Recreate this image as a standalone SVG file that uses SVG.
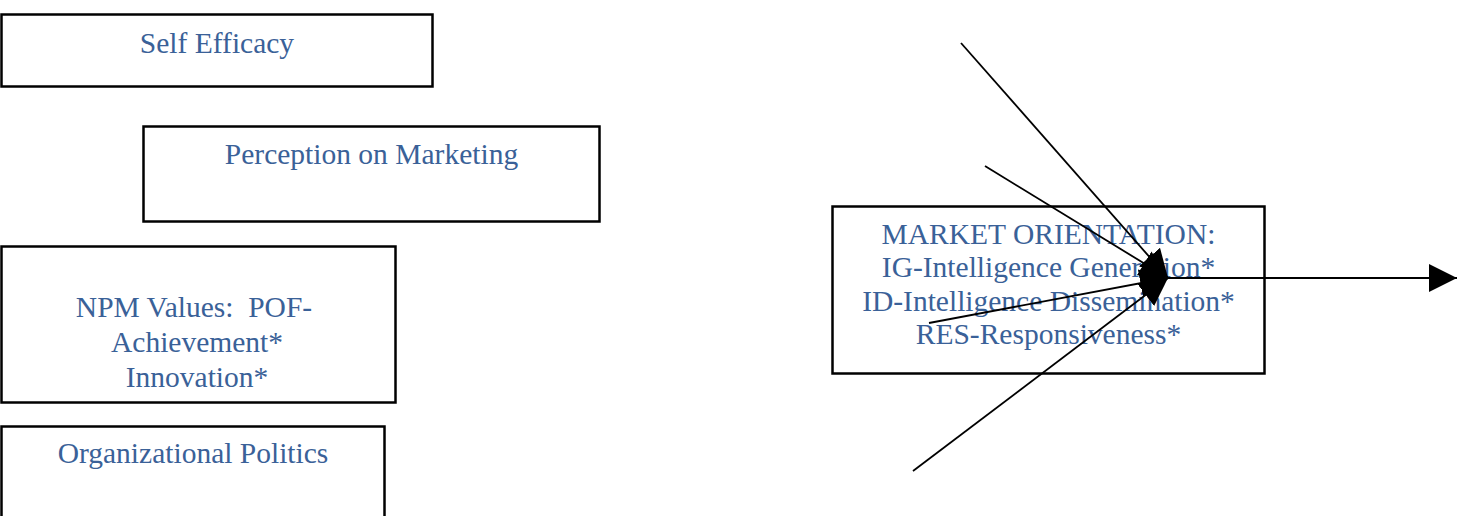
<svg xmlns="http://www.w3.org/2000/svg" width="1461" height="516" viewBox="0 0 1461 516">
  <style>
    .box { fill: #ffffff; stroke: #000000; stroke-width: 2.5; }
    .label { font-family: "Liberation Serif", "Times New Roman", serif; font-size: 29.5px; fill: #3A6198; text-anchor: middle; white-space: pre; }
    .link { stroke: #000000; stroke-width: 1.8; fill: none; marker-end: url(#head); }
  </style>
  <defs>
    <marker id="head" viewBox="0 0 28 28" refX="28" refY="14" markerWidth="28" markerHeight="28" markerUnits="userSpaceOnUse" orient="auto">
      <path d="M0,0 L28,14 L0,28 Z" fill="#000000"/>
    </marker>
  </defs>

  <rect width="1461" height="516" fill="#ffffff"/>

  <g id="self-efficacy">
    <rect class="box" x="1.5" y="14.5" width="431" height="72"/>
    <text class="label" x="217" y="53">Self Efficacy</text>
  </g>

  <g id="perception-on-marketing">
    <rect class="box" x="143.5" y="126.5" width="456" height="95"/>
    <text class="label" x="371.5" y="164">Perception on Marketing</text>
  </g>

  <g id="npm-values">
    <rect class="box" x="1.5" y="246.5" width="394" height="156"/>
    <text class="label" x="194" y="317" xml:space="preserve">NPM Values:  POF-</text>
    <text class="label" x="197" y="352">Achievement*</text>
    <text class="label" x="197" y="387">Innovation*</text>
  </g>

  <g id="organizational-politics">
    <rect class="box" x="1.5" y="426.5" width="383" height="110"/>
    <text class="label" x="193" y="463">Organizational Politics</text>
  </g>

  <g id="market-orientation">
    <rect class="box" x="832.5" y="206.5" width="432" height="167"/>
    <text class="label" x="1048.5" y="244">MARKET ORIENTATION:</text>
    <text class="label" x="1048.5" y="277">IG-Intelligence Generation*</text>
    <text class="label" x="1048.5" y="311">ID-Intelligence Dissemination*</text>
    <text class="label" x="1048.5" y="344">RES-Responsiveness*</text>
  </g>

  <g id="connectors">
    <line class="link" x1="961" y1="43" x2="1168" y2="278"/>
    <line class="link" x1="985" y1="166" x2="1168" y2="278"/>
    <line class="link" x1="929" y1="323" x2="1168" y2="278"/>
    <line class="link" x1="913" y1="471" x2="1168" y2="278"/>
    <line class="link" x1="1168" y1="278" x2="1457" y2="278"/>
  </g>
</svg>
